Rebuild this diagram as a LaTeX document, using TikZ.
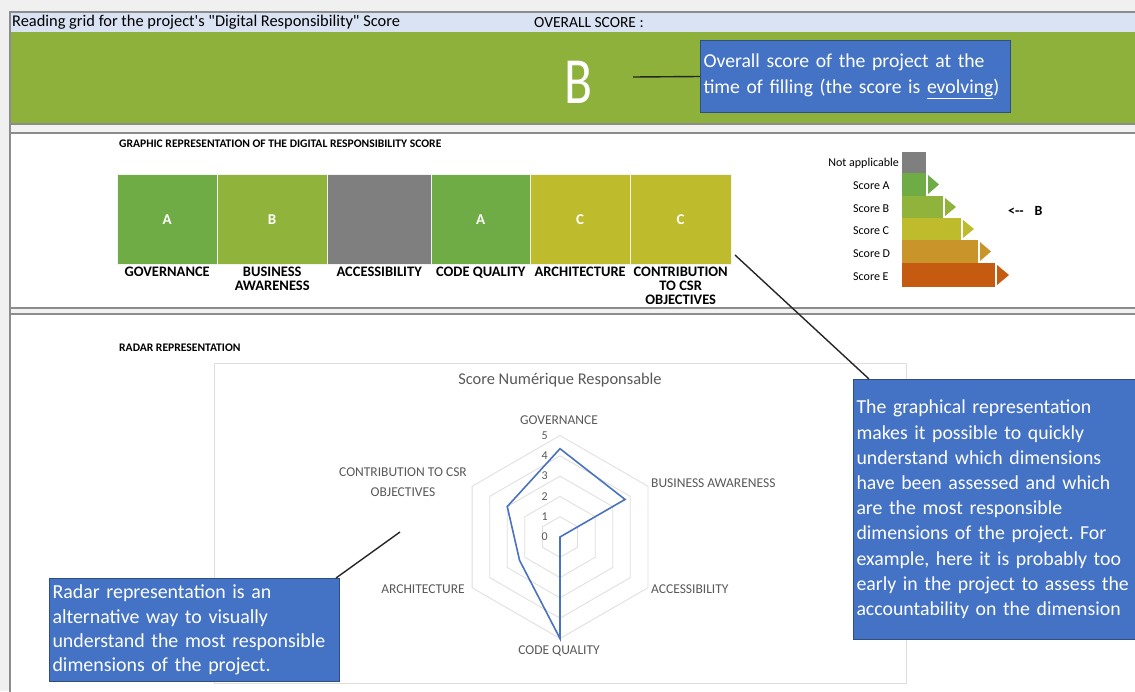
\documentclass[tikz,border=0pt]{standalone}
\usepackage{fontspec}
\setmainfont{Carlito}
\definecolor{bgc}{HTML}{F0F0F0}
\definecolor{framec}{HTML}{8C8C8C}
\definecolor{hdrc}{HTML}{DAE3F3}
\definecolor{grnc}{HTML}{8DB13A}
\definecolor{stripc}{HTML}{F2F2F2}
\definecolor{cA}{HTML}{6FAC46}
\definecolor{cB}{HTML}{8FB33B}
\definecolor{cC}{HTML}{BEBB2C}
\definecolor{cD}{HTML}{C9942A}
\definecolor{cE}{HTML}{C55A11}
\definecolor{cNA}{HTML}{7F7F7F}
\definecolor{boxblue}{HTML}{4472C4}
\definecolor{boxline}{HTML}{2F4F80}
\definecolor{charttext}{HTML}{595959}
\definecolor{gridc}{HTML}{DEDEDE}
\definecolor{datac}{HTML}{4A72C0}
\frenchspacing
\begin{document}
\begin{tikzpicture}[x=1pt,y=-1pt,
  framel/.style={draw=framec, line width=2pt},
  infobox/.style={draw=boxline, line width=1pt, fill=boxblue, text=white, align=left, inner sep=3pt, anchor=north west},
  leader/.style={draw=black!85, line width=1.4pt},
  scorebar/.style={minimum height=90pt, inner sep=0pt, text=white, font=\bfseries\fontsize{15}{15}\selectfont, draw=white!90!gray, line width=0.4pt, anchor=north west},
  barlabel/.style={anchor=north, inner sep=0pt, font=\bfseries\fontsize{14.5}{14}\selectfont, align=center},
  sectitle/.style={anchor=west, inner sep=0pt, font=\bfseries\fontsize{11.6}{11.6}\selectfont},
  legbar/.style={anchor=north west, inner sep=0pt, minimum height=23pt},
  leglabel/.style={inner sep=0pt, font=\fontsize{12}{12}\selectfont},
  axlabel/.style={inner sep=0pt, text=charttext, font=\fontsize{13.5}{20}\selectfont, align=center},
  vallabel/.style={inner sep=0pt, anchor=east, text=charttext, font=\fontsize{12}{12}\selectfont},
  gridline/.style={draw=gridc, line width=0.8pt},
  dataline/.style={draw=datac, line width=1.6pt, line join=miter}
]
\useasboundingbox (0,0) rectangle (1135,691);
% background and frame
\fill[bgc] (0,0) rectangle (1135,691);
\fill[white] (10,12) rectangle (1150,700);
\fill[hdrc] (11,13) rectangle (1150,32);
\fill[grnc] (11,32) rectangle (1150,123);
\fill[stripc] (11,124) rectangle (1150,133);
\fill[stripc] (11,308) rectangle (1150,314);
\draw[framel] (10,12) -- (1150,12);
\draw[framel] (10,11) -- (10,700);
\draw[framel] (10,123.5) -- (1150,123.5);
\draw[framel] (10,133) -- (1150,133);
\draw[framel] (10,308) -- (1150,308);
\draw[framel] (10,314) -- (1150,314);

% header
\node[anchor=west, inner sep=0pt, font=\fontsize{16.4}{16}\selectfont] (title) at (12,22.5) {Reading grid for the project\textquotesingle s \textquotedbl Digital Responsibility\textquotedbl{} Score};
\node[anchor=west, inner sep=0pt, font=\fontsize{15.5}{16}\selectfont] (overall) at (534,22.5) {OVERALL SCORE :};
\node[text=white, inner sep=0pt] (bigB) at (578,82) {\scalebox{0.78}[1]{\fontsize{66}{66}\selectfont B}};

\node[infobox, minimum width=310pt, minimum height=72pt, text width=304pt, font=\fontsize{19.7}{26}\selectfont] (box1) at (700,40)
  {Overall score of the project at the\\time of filling (the score is \underline{evolving})};
\coordinate (l1) at (633,77);
\draw[leader] (l1) -- (box1.west);

% graphic representation
\node[sectitle] (gtitle) at (119,144) {GRAPHIC REPRESENTATION OF THE DIGITAL RESPONSIBILITY SCORE};

\node[scorebar, fill=cA, minimum width=100pt] (gov) at (117,174) {A};
\node[scorebar, fill=cB, minimum width=110pt] (bus) at (217,174) {B};
\node[scorebar, fill=cNA, minimum width=104pt] (acc) at (327,174) {};
\node[scorebar, fill=cA, minimum width=99pt] (code) at (431,174) {A};
\node[scorebar, fill=cC, minimum width=100pt] (arch) at (530,174) {C};
\node[scorebar, fill=cC, minimum width=101pt] (csr) at (630,174) {C};

\node[barlabel] (govl) at ([yshift=-2pt]gov.south) {GOVERNANCE};
\node[barlabel] (busl) at ([yshift=-2pt]bus.south) {BUSINESS\\AWARENESS};
\node[barlabel] (accl) at ([yshift=-2pt]acc.south) {ACCESSIBILITY};
\node[barlabel] (codel) at ([yshift=-2pt]code.south) {CODE QUALITY};
\node[barlabel] (archl) at ([yshift=-2pt]arch.south) {ARCHITECTURE};
\node[barlabel] (csrl) at ([yshift=-2pt]csr.south) {CONTRIBUTION\\TO CSR\\OBJECTIVES};

% legend
\node[legbar, fill=cNA, minimum width=24pt, minimum height=21pt] (lgNA) at (902,152) {};
\node[legbar, fill=cA, minimum width=24pt] (lgA) at (902,173) {};
\node[legbar, fill=cB, minimum width=41pt, minimum height=22pt] (lgB) at (902,196) {};
\node[legbar, fill=cC, minimum width=59pt, minimum height=22pt] (lgC) at (902,218) {};
\node[legbar, fill=cD, minimum width=76pt] (lgD) at (902,240) {};
\node[legbar, fill=cE, minimum width=93pt, minimum height=24pt] (lgE) at (902,263) {};
\fill[cA] (928,175) -- (939,184.5) -- (928,194) -- cycle;
\fill[cB] (945,198) -- (956,207) -- (945,216) -- cycle;
\fill[cC] (963,220) -- (974,229) -- (963,238) -- cycle;
\fill[cD] (980,242) -- (991,251.5) -- (980,261) -- cycle;
\fill[cE] (997,265) -- (1009,275) -- (997,285) -- cycle;
\node[leglabel, anchor=east] (lNA) at (899,163) {Not applicable};
\node[leglabel, anchor=west] (lA) at (853,186) {Score A};
\node[leglabel, anchor=west] (lB) at (853,209) {Score B};
\node[leglabel, anchor=west] (lC) at (853,231) {Score C};
\node[leglabel, anchor=west] (lD) at (853,254) {Score D};
\node[leglabel, anchor=west] (lE) at (853,277) {Score E};
\node[anchor=west, inner sep=0pt, font=\bfseries\fontsize{14}{14}\selectfont] (arrowB) at (1008,211) {<-{}-\hspace{11pt}B};

% radar section
\node[sectitle] (rtitle) at (119,348) {RADAR REPRESENTATION};
\node[draw=gridc, line width=0.8pt, minimum width=692pt, minimum height=320pt, anchor=north west, inner sep=0pt] (chart) at (214,363) {};
\node[inner sep=0pt, text=charttext, font=\fontsize{16.4}{16.4}\selectfont] (chtitle) at (560,380) {Score Numérique Responsable};

\coordinate (rc) at (560,537);
\begin{scope}[shift={(560,537)}]
  \foreach \i in {1,...,5}{
    \draw[gridline] (-90:\i*20.3) -- (-30:\i*20.3) -- (30:\i*20.3) -- (90:\i*20.3) -- (150:\i*20.3) -- (210:\i*20.3) -- cycle;
  }
  \draw[dataline] (-90:4.35*20.3) -- (-30:3.7*20.3) -- (30:0) -- (90:5*20.3) -- (150:2.3*20.3) -- (210:3.0*20.3) -- cycle;
  \foreach \i in {0,...,5}{
    \node[vallabel] (val\i) at (-12,-\i*20.3) {\i};
  }
\end{scope}

\node[axlabel] (axgov) at (559,420) {GOVERNANCE};
\node[axlabel, anchor=west] (axbus) at (651,483) {BUSINESS AWARENESS};
\node[axlabel, anchor=west] (axacc) at (651,589) {ACCESSIBILITY};
\node[axlabel] (axcode) at (559,651) {CODE QUALITY};
\node[axlabel, anchor=east] (axarch) at (465,589) {ARCHITECTURE};
\node[axlabel] (axcsr) at (403,482) {CONTRIBUTION TO CSR\\OBJECTIVES};

% info boxes
\node[infobox, minimum width=292pt, minimum height=260pt, text width=300pt, font=\fontsize{19.8}{25.2}\selectfont] (box2) at (853,379)
  {The graphical representation\\makes it possible to quickly\\understand which dimensions\\have been assessed and which\\are the most responsible\\dimensions of the project. For\\example, here it is probably too\\early in the project to assess the\\accountability on the dimension};
\coordinate (l2) at (735,255);
\draw[leader] (l2) -- ([xshift=16pt]box2.north west);

\node[infobox, minimum width=290pt, minimum height=103pt, text width=284pt, font=\fontsize{19.9}{24.3}\selectfont] (box3) at (49,578)
  {Radar representation is an\\alternative way to visually\\understand the most responsible\\dimensions of the project.};
\coordinate (l3) at (400,532);
\draw[leader] (l3) -- ([xshift=-4pt]box3.north east);
\end{tikzpicture}
\end{document}
